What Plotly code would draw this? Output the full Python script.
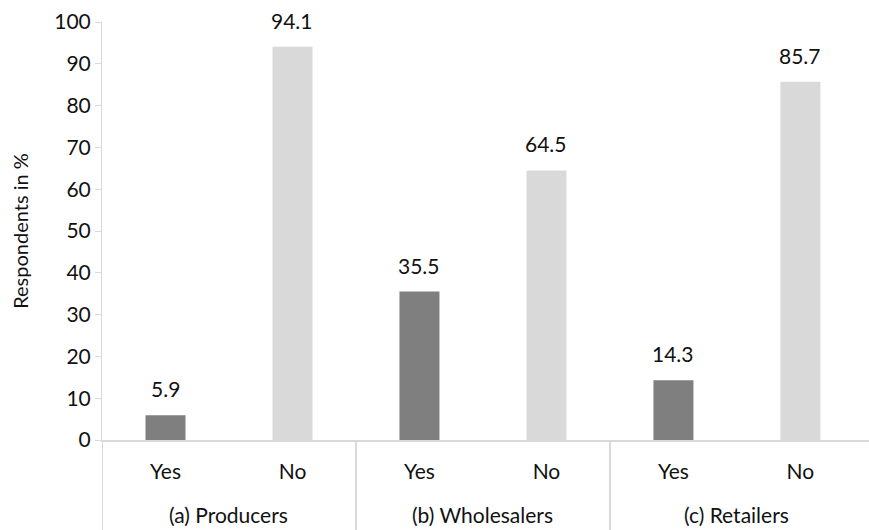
import plotly.graph_objects as go

# Survey answers by respondent group
group_names = ["(a) Producers", "(b) Wholesalers", "(c) Retailers"]
answers = ["Yes", "No", "Yes", "No", "Yes", "No"]
percent = [5.9, 94.1, 35.5, 64.5, 14.3, 85.7]
y_ticks = list(range(0, 101, 10))

answer_colors = {"Yes": "#7f7f7f", "No": "#d9d9d9"}
font_family = "Lato, 'Liberation Sans', sans-serif"
text_color = "#111111"
rule_color = "#d9d9d9"

W, H = 869, 530
M_L, M_R, M_T, M_B = 102, 0, 22, 90
plot_h = H - M_T - M_B

positions = list(range(len(answers)))


def paper_y(px_from_top):
    """Convert a pixel row of the page to a paper y coordinate."""
    return (H - M_B - px_from_top) / plot_h


fig = go.Figure(
    go.Bar(
        x=positions,
        y=percent,
        marker=dict(color=[answer_colors[a] for a in answers], line=dict(width=0)),
        width=0.315,
        showlegend=False,
        hoverinfo="y",
    )
)

# Value labels above each bar
for xi, v in zip(positions, percent):
    fig.add_annotation(
        x=xi, y=v, xref="x", yref="y",
        text=f"{v:.1f}", showarrow=False,
        yanchor="bottom", yshift=12,
        font=dict(size=21, color=text_color, family=font_family),
    )

# Group labels under the answer labels
for gi, name in enumerate(group_names):
    fig.add_annotation(
        x=2 * gi + 0.5, y=paper_y(514), xref="x", yref="paper",
        text=name, showarrow=False, yanchor="middle",
        font=dict(size=21, color=text_color, family=font_family),
    )

# Vertical dividers between the groups, reaching into the label area
for xd in [-0.5, 1.5, 3.5]:
    fig.add_shape(
        type="line", xref="x", yref="paper",
        x0=xd, x1=xd, y0=0, y1=paper_y(H + 5),
        line=dict(color=rule_color, width=2),
    )

fig.update_layout(
    width=W,
    height=H,
    margin=dict(l=M_L, r=M_R, t=M_T, b=M_B),
    paper_bgcolor="white",
    plot_bgcolor="white",
    font=dict(family=font_family, size=21, color=text_color),
)

fig.update_xaxes(
    range=[-0.5, 5.54],
    tickvals=positions,
    ticktext=answers,
    showline=True,
    linecolor=rule_color,
    linewidth=2,
    showgrid=False,
    zeroline=False,
    ticks="",
    ticklabelstandoff=12,
    tickfont=dict(size=21, color=text_color),
)

fig.update_yaxes(
    range=[0, 100],
    tickvals=y_ticks,
    showgrid=False,
    zeroline=False,
    showline=True,
    linecolor=rule_color,
    linewidth=1,
    ticks="outside",
    ticklen=6,
    tickcolor=rule_color,
    tickfont=dict(size=21, color=text_color),
    title=dict(text="Respondents in %", font=dict(size=20, color=text_color), standoff=20),
)

fig.write_html("out.html")
